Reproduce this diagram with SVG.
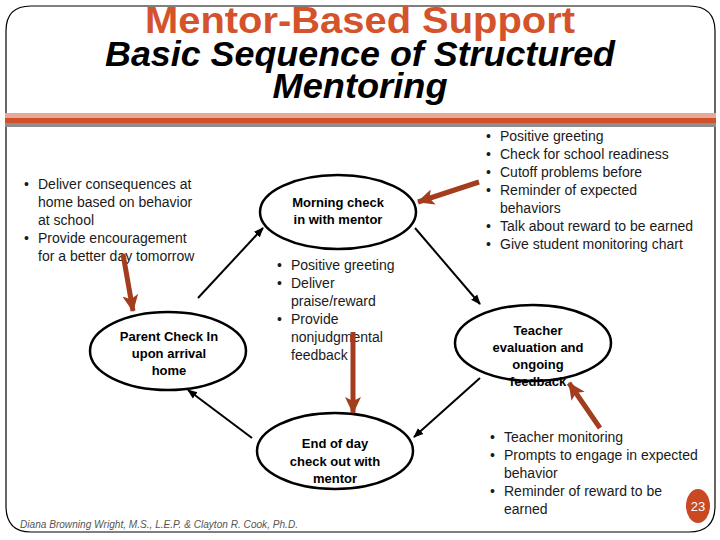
<svg xmlns="http://www.w3.org/2000/svg" width="720" height="540" viewBox="0 0 720 540">
<style>
.t{font-family:"Liberation Sans",Arial,sans-serif;font-size:14px;fill:#1a1a1a}
.b{font-family:"Liberation Sans",Arial,sans-serif;font-size:13px;font-weight:bold;fill:#000;text-anchor:middle}
.e{fill:#fff;stroke:#000;stroke-width:2.5}
.k{stroke:#000;stroke-width:2;fill:none}
.r{stroke:#A33D1E;stroke-width:5;fill:none}
.h{font-family:"Liberation Sans",Arial,sans-serif;font-weight:bold;text-anchor:middle}
</style>
<defs>
<marker id="ak" markerWidth="10" markerHeight="10" refX="9" refY="5" orient="auto" markerUnits="userSpaceOnUse"><path d="M0,1 L10,5 L0,9 Z" fill="#000"/></marker>
<marker id="ar" markerWidth="18" markerHeight="18" refX="16" refY="9" orient="auto" markerUnits="userSpaceOnUse"><path d="M0,1 L17,9 L0,17 L4,9 Z" fill="#A33D1E"/></marker>
</defs>
<rect width="720" height="540" fill="#fff"/>
<path d="M6,31 Q6,6 31,6 L689,6 Q715,6 715,31 L715,506 Q715,532 689,532 L31,532 Q6,532 6,506 Z" fill="none" stroke="#000" stroke-width="1.2"/>
<rect x="5" y="113" width="711" height="5" fill="#E8A898"/>
<rect x="5" y="118" width="711" height="5" fill="#D0502A"/>
<rect x="5" y="123" width="711" height="4" fill="#8E8E8E"/>
<g id="title">
<text class="h" x="360" y="33" font-size="37" fill="#D4532B" textLength="430" lengthAdjust="spacingAndGlyphs">Mentor-Based Support</text>
<text class="h" x="360" y="66" font-size="35" font-style="italic" fill="#000" textLength="510" lengthAdjust="spacingAndGlyphs">Basic Sequence of Structured</text>
<text class="h" x="360" y="98" font-size="35" font-style="italic" fill="#000" textLength="175" lengthAdjust="spacingAndGlyphs">Mentoring</text>
</g>
<g id="connectors">
<line class="k" x1="198" y1="298" x2="263" y2="228" marker-end="url(#ak)"/>
<line class="k" x1="415" y1="228" x2="480" y2="304" marker-end="url(#ak)"/>
<line class="k" x1="480" y1="378" x2="414" y2="437" marker-end="url(#ak)"/>
<line class="k" x1="252" y1="438" x2="188" y2="390" marker-end="url(#ak)"/>
</g>
<g id="parent">
<ellipse class="e" cx="168" cy="351" rx="78" ry="39"/>
<text class="b" x="169" y="341">Parent Check In</text>
<text class="b" x="169" y="358">upon arrival</text>
<text class="b" x="169" y="375">home</text>
</g>
<g id="morning">
<ellipse class="e" cx="338" cy="212" rx="78" ry="37"/>
<text class="b" x="338" y="207">Morning check</text>
<text class="b" x="338" y="224">in with mentor</text>
</g>
<g id="teacher">
<ellipse class="e" cx="533" cy="343" rx="78" ry="38"/>
<text class="b" x="538" y="335">Teacher</text>
<text class="b" x="538" y="352">evaluation and</text>
<text class="b" x="538" y="369">ongoing</text>
<text class="b" x="538" y="386">feedback</text>
</g>
<g id="endofday">
<ellipse class="e" cx="335" cy="451" rx="78" ry="38"/>
<text class="b" x="335" y="448">End of day</text>
<text class="b" x="335" y="466">check out with</text>
<text class="b" x="335" y="483">mentor</text>
</g>
<g id="home-notes" class="t">
<text x="24" y="189">•</text><text x="38" y="189">Deliver consequences at</text>
<text x="38" y="207">home based on behavior</text>
<text x="38" y="225">at school</text>
<text x="24" y="243">•</text><text x="38" y="243">Provide encouragement</text>
<text x="38" y="261">for a better day tomorrow</text>
</g>
<g id="mentor-notes" class="t">
<text x="277" y="270">•</text><text x="291" y="270">Positive greeting</text>
<text x="277" y="288">•</text><text x="291" y="288">Deliver</text>
<text x="291" y="306">praise/reward</text>
<text x="277" y="324">•</text><text x="291" y="324">Provide</text>
<text x="291" y="342">nonjudgmental</text>
<text x="291" y="360">feedback</text>
</g>
<g id="morning-notes" class="t">
<text x="486" y="141">•</text><text x="500" y="141">Positive greeting</text>
<text x="486" y="159">•</text><text x="500" y="159">Check for school readiness</text>
<text x="486" y="177">•</text><text x="500" y="177">Cutoff problems before</text>
<text x="486" y="195">•</text><text x="500" y="195">Reminder of expected</text>
<text x="500" y="213">behaviors</text>
<text x="486" y="231">•</text><text x="500" y="231">Talk about reward to be earned</text>
<text x="486" y="249">•</text><text x="500" y="249">Give student monitoring chart</text>
</g>
<g id="teacher-notes" class="t">
<text x="490" y="442">•</text><text x="504" y="442">Teacher monitoring</text>
<text x="490" y="460">•</text><text x="504" y="460">Prompts to engage in expected</text>
<text x="504" y="478">behavior</text>
<text x="490" y="496">•</text><text x="504" y="496">Reminder of reward to be</text>
<text x="504" y="514">earned</text>
</g>
<g id="red-arrows">
<line class="r" x1="123" y1="254" x2="133" y2="311" marker-end="url(#ar)"/>
<line class="r" x1="479" y1="182" x2="418" y2="202" marker-end="url(#ar)"/>
<line class="r" x1="353" y1="332" x2="353" y2="413" marker-end="url(#ar)"/>
<line class="r" x1="600" y1="428" x2="569" y2="383" marker-end="url(#ar)"/>
</g>
<text x="20" y="528" font-family="'Liberation Sans',Arial,sans-serif" font-style="italic" font-size="10" fill="#555" textLength="278" lengthAdjust="spacingAndGlyphs">Diana Browning Wright, M.S., L.E.P. &amp; Clayton R. Cook, Ph.D.</text>
<g id="page-number">
<ellipse cx="698" cy="506" rx="12" ry="17" fill="#C94A22"/>
<text x="698" y="511" text-anchor="middle" font-family="'Liberation Sans',Arial,sans-serif" font-size="13" fill="#fff">23</text>
</g>
</svg>
